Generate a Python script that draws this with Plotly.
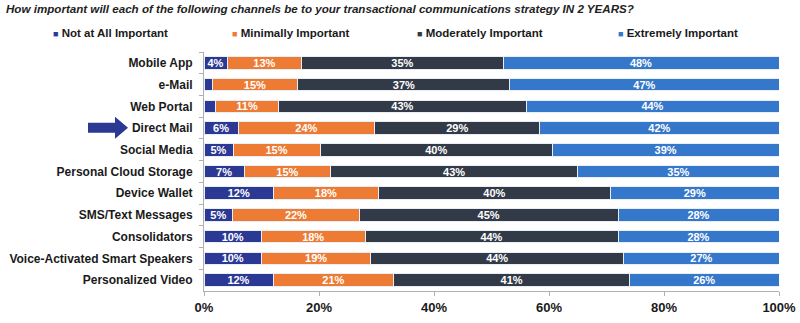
import plotly.graph_objects as go

categories = ["Mobile App", "e-Mail", "Web Portal", "Direct Mail", "Social Media",
              "Personal Cloud Storage", "Device Wallet", "SMS/Text Messages",
              "Consolidators", "Voice-Activated Smart Speakers", "Personalized Video"]
series_names = ["Not at All Important", "Minimally Important",
                "Moderately Important", "Extremely Important"]
not_at_all = [4, 1.4, 2, 6, 5, 7, 12, 5, 10, 10, 12]
minimally = [13, 15, 11, 24, 15, 15, 18, 22, 18, 19, 21]
moderately = [35, 37, 43, 29, 40, 43, 40, 45, 44, 44, 41]
extremely = [48, 47, 44, 42, 39, 35, 29, 28, 28, 27, 26]
x_ticks = [0, 20, 40, 60, 80, 100]
x_tick_labels = ["0%", "20%", "40%", "60%", "80%", "100%"]

colors = ["#2B3894", "#EE7B33", "#323A48", "#3577CA"]
series = [not_at_all, minimally, moderately, extremely]

FONT = "Liberation Sans"
fig = go.Figure()
for name, vals, col in zip(series_names, series, colors):
    fig.add_trace(go.Bar(
        y=categories, x=vals, name=name, orientation="h",
        marker=dict(color=col, line=dict(color="#e8eef6", width=1)),
        text=[f"{v:.0f}%" if v >= 3 else "" for v in vals],
        textposition="inside", insidetextanchor="middle", constraintext="none",
        textfont=dict(color="white", size=11, family=FONT, weight="bold"),
        showlegend=False, hoverinfo="skip",
    ))

W, H = 800, 323
ml, mr, mt, mb = 204, 21, 52, 32
pw, ph = W - ml - mr, H - mt - mb

def px_x(p):
    return (p - ml) / pw

def px_y(p):
    return (H - mb - p) / ph

# legend as annotations
leg_x = [51, 230, 415, 616]
for name, col, lx in zip(series_names, colors, leg_x):
    fig.add_annotation(
        xref="paper", yref="paper", x=px_x(lx), y=px_y(33.5),
        xanchor="left", yanchor="middle", showarrow=False,
        text=f"<span style='color:{col};font-size:9px'>■</span> <b>{name}</b>",
        font=dict(family=FONT, size=11.5, color="#1a1a1a"),
    )

# arrow pointing at Direct Mail
ay = 127.7
x0, xs, xt = 88, 115, 128
pts = [(x0, ay - 5), (xs, ay - 5), (xs, ay - 11), (xt, ay), (xs, ay + 11), (xs, ay + 5), (x0, ay + 5)]
path = "M " + " L ".join(f"{px_x(a):.5f},{px_y(b):.5f}" for a, b in pts) + " Z"
fig.add_shape(type="path", xref="paper", yref="paper", path=path,
              fillcolor="#2B3894", line=dict(width=0))

fig.update_layout(
    barmode="stack", barnorm="percent", bargap=0.42,
    width=W, height=H, margin=dict(l=ml, r=mr, t=mt, b=mb, autoexpand=False),
    paper_bgcolor="white", plot_bgcolor="white",
    title=dict(text="<b><i>How important will each of the following channels be to your transactional communications strategy IN 2 YEARS?</i></b>",
               xref="container", x=6 / W, xanchor="left", y=1 - 9 / H, yanchor="middle",
               font=dict(family=FONT, size=11.6, color="#222222")),
    font=dict(family=FONT),
    xaxis=dict(range=[0, 100], tickvals=x_ticks, ticktext=x_tick_labels, showgrid=False,
               zeroline=False, showline=True, linecolor="#b0b0b0", linewidth=1,
               ticks="outside", ticklen=4, tickcolor="#b0b0b0", automargin=False,
               tickfont=dict(family=FONT, size=13, color="#1a1a1a", weight="bold")),
    yaxis=dict(autorange="reversed", showgrid=False, zeroline=False, showline=True,
               linecolor="#b0b0b0", linewidth=1, ticks="outside", ticklen=4,
               tickcolor="#b0b0b0", tickson="boundaries", ticklabelstandoff=8,
               automargin=False,
               tickfont=dict(family=FONT, size=12, color="#1a1a1a", weight="bold")),
)

fig.write_html("out.html")
